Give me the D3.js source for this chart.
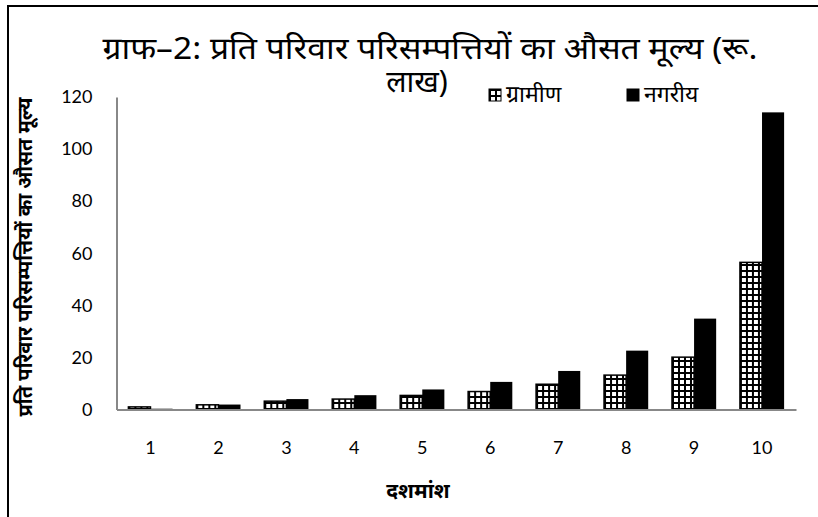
<!DOCTYPE html>
<html>
<head>
<meta charset="utf-8">
<script src="https://cdn.jsdelivr.net/npm/d3@7"></script>
<style>
  html, body { margin: 0; padding: 0; background: #fff; }
  svg { display: block; }
</style>
</head>
<body>
<svg id="chart" width="818" height="517"></svg>
<script>
// Deciles and average asset value per household (Rs. lakh)
const deciles = ["1", "2", "3", "4", "5", "6", "7", "8", "9", "10"];
const ruralValues = [1.0, 1.8, 3.2, 4.0, 5.4, 6.9, 9.7, 13.2, 20.1, 56.5];
const urbanValues = [0.3, 1.9, 4.0, 5.5, 7.7, 10.6, 14.8, 22.6, 34.9, 114.1];
const seriesNames = ["ग्रामीण", "नगरीय"];
const yTicks = [0, 20, 40, 60, 80, 100, 120];

const titleLines = ["ग्राफ–2: प्रति परिवार परिसम्पत्तियों का औसत मूल्य (रू.", "लाख)"];
const yTitle = "प्रति परिवार परिसम्पत्तियों का औसत मूल्य";
const xTitle = "दशमांश";

const svg = d3.select("#chart");
const W = 818, H = 517;
const margin = { left: 116.5, right: 22, top: 97, bottom: 107.5 };

// grid pattern for the rural series
const defs = svg.append("defs");
const pat = defs.append("pattern")
  .attr("id", "grid")
  .attr("patternUnits", "userSpaceOnUse")
  .attr("width", 6).attr("height", 6);
pat.append("rect").attr("width", 6).attr("height", 6).attr("fill", "#fff");
pat.append("rect").attr("x", 0).attr("y", 0).attr("width", 2).attr("height", 6).attr("fill", "#000");
pat.append("rect").attr("x", 0).attr("y", 0).attr("width", 6).attr("height", 2).attr("fill", "#000");

// outer frame
svg.append("rect")
  .attr("x", 8).attr("y", 6)
  .attr("width", 900).attr("height", 600)
  .attr("fill", "none").attr("stroke", "#000").attr("stroke-width", 2);

const x0 = d3.scaleBand()
  .domain(deciles)
  .range([margin.left, W - margin.right])
  .paddingInner(0.35).paddingOuter(0.175);

const x1 = d3.scaleBand()
  .domain([0, 1])
  .range([0, x0.bandwidth()]);

const y = d3.scaleLinear()
  .domain([0, 120])
  .range([H - margin.bottom, margin.top]);

const tickFont = "Lato, 'Open Sans', sans-serif";
const devFont = "'Noto Sans', 'Noto Sans Devanagari', sans-serif";

// y axis
const yAxis = svg.append("g")
  .attr("transform", `translate(${margin.left},0)`)
  .call(d3.axisLeft(y).tickValues(yTicks).tickSize(0).tickPadding(24));
yAxis.select(".domain").attr("stroke", "#888").attr("stroke-width", 2);
yAxis.selectAll("text")
  .attr("font-family", tickFont).attr("font-size", 18).attr("fill", "#000");

// bars
const groups = svg.append("g").selectAll("g")
  .data(deciles)
  .join("g")
  .attr("transform", d => `translate(${x0(d)},0)`);

groups.append("rect")
  .attr("x", x1(0))
  .attr("width", x1.bandwidth())
  .attr("y", (d, i) => y(ruralValues[i]))
  .attr("height", (d, i) => y(0) - y(ruralValues[i]))
  .attr("fill", "url(#grid)")
  .attr("stroke", "#000").attr("stroke-width", 1.5);

groups.append("rect")
  .attr("x", x1(1))
  .attr("width", x1.bandwidth())
  .attr("y", (d, i) => y(urbanValues[i]))
  .attr("height", (d, i) => y(0) - y(urbanValues[i]))
  .attr("fill", "#000");

// x axis
const xAxis = svg.append("g")
  .attr("transform", `translate(0,${H - margin.bottom})`)
  .call(d3.axisBottom(x0).tickSize(0).tickPadding(32));
xAxis.select(".domain").attr("stroke", "#888").attr("stroke-width", 2);
xAxis.selectAll("text")
  .attr("font-family", tickFont).attr("font-size", 18).attr("fill", "#000");

// title, two lines; the first is stretched to the full title width
const titleX = [430, 417];
const title = svg.append("text")
  .attr("text-anchor", "middle")
  .attr("font-family", devFont)
  .attr("font-size", 30)
  .attr("fill", "#000");
title.selectAll("tspan")
  .data(titleLines)
  .join("tspan")
  .attr("x", (d, i) => titleX[i])
  .attr("y", (d, i) => 59 + i * 33)
  .attr("textLength", (d, i) => i === 0 ? 655 : null)
  .attr("lengthAdjust", "spacingAndGlyphs")
  .text(d => d);

// axis titles
svg.append("text")
  .attr("transform", "translate(32,257) rotate(-90)")
  .attr("text-anchor", "middle")
  .attr("font-family", devFont)
  .attr("font-size", 20)
  .attr("font-weight", "bold")
  .attr("fill", "#000")
  .text(yTitle);

svg.append("text")
  .attr("x", 418).attr("y", 498)
  .attr("text-anchor", "middle")
  .attr("font-family", devFont)
  .attr("font-size", 21)
  .attr("font-weight", "bold")
  .attr("fill", "#000")
  .text(xTitle);

// legend
const legendX = [489, 627];
const legend = svg.append("g").selectAll("g")
  .data(seriesNames)
  .join("g")
  .attr("transform", (d, i) => `translate(${legendX[i]},89)`);
legend.append("rect")
  .attr("width", 12).attr("height", 12)
  .attr("fill", (d, i) => i === 0 ? "url(#grid)" : "#000")
  .attr("stroke", "#000").attr("stroke-width", 1);
legend.append("text")
  .attr("x", 17).attr("y", 13)
  .attr("font-family", "'Noto Serif', 'Noto Sans', serif")
  .attr("font-size", 23)
  .attr("fill", "#000")
  .text(d => d);
</script>
</body>
</html>
